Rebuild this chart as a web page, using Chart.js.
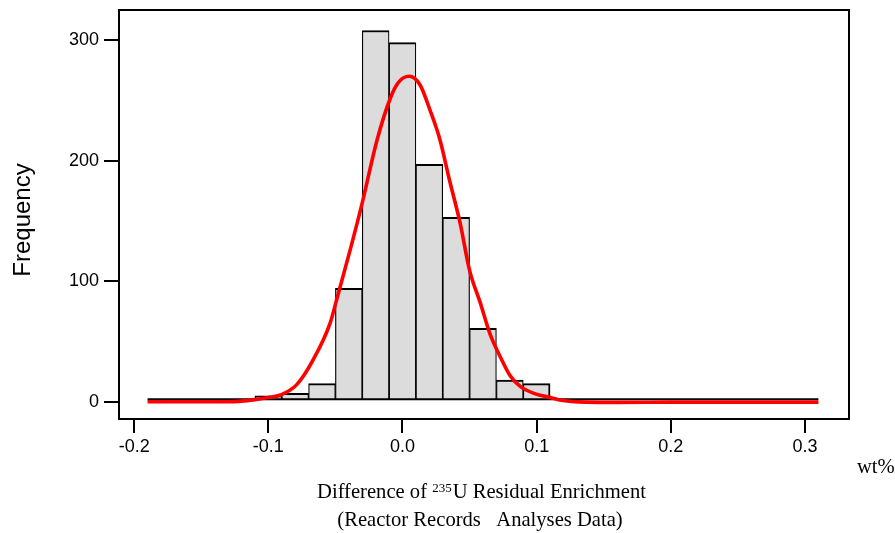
<!DOCTYPE html>
<html>
<head>
<meta charset="utf-8">
<script src="https://cdn.jsdelivr.net/npm/chart.js@4/dist/chart.umd.min.js"></script>
<style>
  body { margin: 0; background: #fff; }
  canvas { display: block; }
</style>
</head>
<body>
<canvas id="histChart" width="895" height="533"></canvas>
<script>
// histogram bins (centre of each 0.02 wt% bin) and counts
const binCenters = [-0.18, -0.16, -0.14, -0.12, -0.10, -0.08, -0.06, -0.04, -0.02, 0.00, 0.02, 0.04, 0.06,
    0.08, 0.10, 0.12, 0.14, 0.16, 0.18, 0.20, 0.22, 0.24, 0.26, 0.28, 0.30];
const freq = [0, 0, 0, 0, 5, 7, 15, 94, 308, 298, 197, 153, 61, 18, 15, 0, 0, 0, 0, 0, 0, 0, 0, 0, 0];

// fitted curve, read point by point
const fitX = [-0.19, -0.16, -0.13, -0.12, -0.11, -0.10, -0.091, -0.079, -0.0665, -0.054, -0.049, -0.039,
    -0.030, -0.019, -0.009, -0.003, 0.005, 0.013, 0.0205, 0.028, 0.035, 0.043, 0.050, 0.058, 0.065, 0.073,
    0.080, 0.088, 0.098, 0.112, 0.117, 0.137, 0.16, 0.20, 0.25, 0.31];
const fitY = [0, 0, 0, 0.5, 1.8, 3.5, 5.6, 14, 35, 65, 85, 126,
    165, 217, 252, 265, 270, 263, 242, 217, 184, 148, 109, 82, 57, 37,
    22, 12.5, 7, 3, 1.5, -0.3, -0.5, -0.3, -0.3, -0.3];

const xTicks = [-0.2, -0.1, 0.0, 0.1, 0.2, 0.3];
const yTicks = [0, 100, 200, 300];

const BIN_W = 0.02;
const BAR_BASE = 2;   // histogram baseline sits slightly above the zero tick in the original

const sansFont = 'Liberation Sans, Arial, sans-serif';
const serifFont = '"Liberation Serif", "Times New Roman", serif';

const isEmpty = i => i < 0 || i >= freq.length || freq[i] <= 0;

const framePlugin = {
    id: 'frame',
    afterDatasetDraw(chart, args) {
        if (args.index !== 0) return;
        // bottom outline of the histogram, empty bins included
        const x = chart.scales.x, y = chart.scales.y;
        const ctx = chart.ctx;
        const yb = y.getPixelForValue(BAR_BASE);
        ctx.save();
        ctx.strokeStyle = '#000';
        ctx.lineWidth = 2;
        ctx.beginPath();
        ctx.moveTo(x.getPixelForValue(binCenters[0] - BIN_W / 2), yb);
        ctx.lineTo(x.getPixelForValue(binCenters[binCenters.length - 1] + BIN_W / 2), yb);
        ctx.stroke();
        ctx.restore();
    },
    afterDraw(chart) {
        const ctx = chart.ctx;
        const a = chart.chartArea;
        ctx.save();
        ctx.strokeStyle = '#000';
        ctx.lineWidth = 2;
        ctx.strokeRect(a.left, a.top, a.right - a.left, a.bottom - a.top);

        ctx.fillStyle = '#000';

        // y axis title
        ctx.save();
        ctx.translate(23, 220);
        ctx.rotate(-Math.PI / 2);
        ctx.font = '24px ' + sansFont;
        ctx.textAlign = 'center';
        ctx.textBaseline = 'middle';
        ctx.fillText('Frequency', 0, 0);
        ctx.restore();

        ctx.textBaseline = 'alphabetic';

        // x axis caption, two lines, with a superscript mass number
        const big = '20.6px ' + serifFont;
        const small = '13px ' + serifFont;
        const p1 = 'Difference of ', p2 = '235', p3 = 'U Residual Enrichment';
        ctx.font = big;
        const w1 = ctx.measureText(p1).width, w3 = ctx.measureText(p3).width;
        ctx.font = small;
        const w2 = ctx.measureText(p2).width + 1;
        let cx = 481.5 - (w1 + w2 + w3) / 2;
        ctx.textAlign = 'left';
        ctx.font = big;
        ctx.fillText(p1, cx, 498);
        ctx.font = small;
        ctx.fillText(p2, cx + w1, 492);
        ctx.font = big;
        ctx.fillText(p3, cx + w1 + w2, 498);

        ctx.textAlign = 'center';
        ctx.fillText('(Reactor Records   Analyses Data)', 480, 526);

        ctx.textAlign = 'left';
        ctx.fillText('wt%', 857, 473);
        ctx.restore();
    }
};

const ctx = document.getElementById('histChart').getContext('2d');
new Chart(ctx, {
    data: {
        datasets: [{
            type: 'bar',
            order: 1,
            data: binCenters.map((x, i) => ({ x: x, y: Math.max(freq[i], BAR_BASE) })),
            base: BAR_BASE,
            backgroundColor: '#dcdcdc',
            borderColor: '#000',
            borderWidth: c => ({
                top: 2,
                bottom: 0,
                left: isEmpty(c.dataIndex - 1) ? 2 : 1.2,
                right: isEmpty(c.dataIndex + 1) ? 2 : 1.2
            }),
            barPercentage: 1,
            categoryPercentage: 1
        }, {
            type: 'line',
            order: 0,
            data: fitX.map((x, i) => ({ x: x, y: fitY[i] })),
            borderColor: '#ff0000',
            borderWidth: 3.6,
            pointRadius: 0,
            cubicInterpolationMode: 'monotone',
            fill: false
        }]
    },
    options: {
        responsive: false,
        animation: false,
        layout: { padding: { top: 10, right: 46, left: 0, bottom: 0 } },
        plugins: {
            legend: { display: false },
            tooltip: { enabled: false }
        },
        scales: {
            x: {
                type: 'linear',
                position: 'bottom',
                offset: false,
                min: -0.2113,
                max: 0.3328,
                afterFit: s => { s.height = 114; s.paddingLeft = 0; s.paddingRight = 0; },
                afterBuildTicks: s => { s.ticks = xTicks.map(v => ({ value: v })); },
                border: { display: false },
                grid: { offset: false, drawOnChartArea: false, drawTicks: true, tickLength: 14, color: '#000', lineWidth: 2 },
                ticks: {
                    color: '#000',
                    font: { family: sansFont, size: 18 },
                    padding: 3,
                    maxRotation: 0,
                    autoSkip: false,
                    callback: v => v.toFixed(1)
                }
            },
            y: {
                type: 'linear',
                position: 'left',
                min: -14.3,
                max: 325,
                afterFit: s => { s.width = 119; s.paddingTop = 0; s.paddingBottom = 0; },
                afterBuildTicks: s => { s.ticks = yTicks.map(v => ({ value: v })); },
                border: { display: false },
                grid: { drawOnChartArea: false, drawTicks: true, tickLength: 15, color: '#000', lineWidth: 2 },
                ticks: {
                    color: '#000',
                    font: { family: sansFont, size: 18 },
                    padding: 5,
                    callback: v => String(v)
                }
            }
        }
    },
    plugins: [framePlugin]
});
</script>
</body>
</html>
